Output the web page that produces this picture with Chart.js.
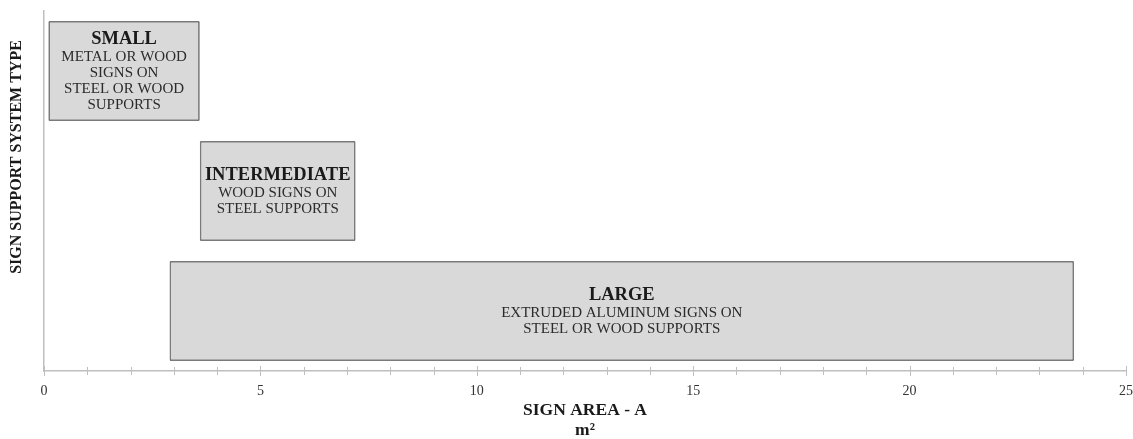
<!DOCTYPE html>
<html>
<head>
<meta charset="utf-8">
<script src="https://cdn.jsdelivr.net/npm/chart.js@4/dist/chart.umd.min.js"></script>
<style>
  html, body { margin: 0; padding: 0; background: #ffffff; }
  #wrap { width: 1133px; height: 439px; position: relative; }
</style>
</head>
<body>
<div id="wrap"><canvas id="c"></canvas></div>
<script>
// ---- data ----
const categories = ['SMALL', 'INTERMEDIATE', 'LARGE'];
const rangeStart = [0.1, 3.6, 2.9];
const rangeEnd = [3.6, 7.2, 23.8];
const descriptions = [
  ['METAL OR WOOD', 'SIGNS ON', 'STEEL OR WOOD', 'SUPPORTS'],
  ['WOOD SIGNS ON', 'STEEL SUPPORTS'],
  ['EXTRUDED ALUMINUM SIGNS ON', 'STEEL OR WOOD SUPPORTS']
];
const xMin = 0, xMax = 25, xMajorStep = 5, xMinorStep = 1;
const xTitle = ['SIGN AREA - A', 'm²'];
const yTitle = 'SIGN SUPPORT SYSTEM TYPE';

const SERIF = '"Liberation Serif", "Times New Roman", serif';
const AXIS_GREY = '#bfbfbf';

// bar labels drawn inside each bar
const barTextPlugin = {
  id: 'barText',
  afterDatasetsDraw(chart) {
    const ctx = chart.ctx;
    const meta = chart.getDatasetMeta(0);
    ctx.save();
    ctx.textAlign = 'center';
    ctx.textBaseline = 'middle';
    meta.data.forEach((el, i) => {
      const cx = (el.x + el.base) / 2;
      const lines = descriptions[i];
      const titleGap = 18, lineGap = 16;
      const span = titleGap + lineGap * (lines.length - 1);
      let y = el.y - span / 2 + 1;
      ctx.fillStyle = '#1a1a1a';
      ctx.font = 'bold 18.5px ' + SERIF;
      ctx.fillText(categories[i], cx, y);
      y += titleGap;
      ctx.fillStyle = '#2b2b2b';
      ctx.font = '15px ' + SERIF;
      lines.forEach((t, k) => {
        ctx.fillText(t, cx, y + k * lineGap);
      });
    });
    ctx.restore();
  }
};

// tick marks crossing the x axis line, and the y axis title
const axisDecorPlugin = {
  id: 'axisDecor',
  afterDraw(chart) {
    const ctx = chart.ctx;
    const xs = chart.scales.x;
    const area = chart.chartArea;
    ctx.save();
    ctx.strokeStyle = AXIS_GREY;
    ctx.lineWidth = 1;
    for (let v = xMin; v <= xMax; v += xMinorStep) {
      const px = Math.round(xs.getPixelForValue(v)) + 0.5;
      const major = v % xMajorStep === 0;
      const h = major ? 5 : 4;
      ctx.beginPath();
      ctx.moveTo(px, area.bottom - h);
      ctx.lineTo(px, area.bottom + h);
      ctx.stroke();
    }
    // y title
    ctx.fillStyle = '#1a1a1a';
    ctx.font = 'bold 16px ' + SERIF;
    ctx.textAlign = 'center';
    ctx.textBaseline = 'middle';
    ctx.translate(17, (area.top + area.bottom) / 2 - 34);
    ctx.rotate(-Math.PI / 2);
    ctx.fillText(yTitle, 0, 0);
    ctx.restore();
  }
};

new Chart(document.getElementById('c'), {
  type: 'bar',
  data: {
    labels: categories,
    datasets: [{
      data: categories.map((c, i) => [rangeStart[i], rangeEnd[i]]),
      backgroundColor: '#d9d9d9',
      borderColor: '#7a7a7a',
      borderWidth: 1.75,
      borderSkipped: false,
      borderRadius: 1,
      barPercentage: 0.833,
      categoryPercentage: 1.0
    }]
  },
  options: {
    indexAxis: 'y',
    responsive: true,
    maintainAspectRatio: false,
    animation: false,
    layout: { padding: { top: 11, left: 0, right: 0, bottom: 0 } },
    plugins: {
      legend: { display: false },
      tooltip: { enabled: false }
    },
    scales: {
      x: {
        type: 'linear',
        min: xMin,
        max: xMax,
        position: 'bottom',
        afterFit(scale) { scale.height = 68; },
        ticks: {
          stepSize: xMinorStep,
          autoSkip: false,
          maxRotation: 0,
          padding: 0,
          color: '#333333',
          font: { family: SERIF, size: 14 },
          callback(v) { return v % xMajorStep === 0 ? String(v) : ''; }
        },
        grid: {
          display: true,
          drawOnChartArea: false,
          drawTicks: true,
          tickLength: 12,
          tickColor: 'rgba(0,0,0,0)',
          color: AXIS_GREY
        },
        border: { display: true, color: AXIS_GREY, width: 1.5 },
        title: {
          display: true,
          text: xTitle,
          color: '#1a1a1a',
          font: { family: SERIF, size: 17.5, weight: 'bold', lineHeight: 1.15 },
          padding: { top: 0, bottom: -2 }
        }
      },
      y: {
        type: 'category',
        afterFit(scale) { scale.width = 44; },
        ticks: { display: false },
        grid: { display: false },
        border: { display: true, color: AXIS_GREY, width: 1.5 }
      }
    }
  },
  plugins: [barTextPlugin, axisDecorPlugin]
});
</script>
</body>
</html>
